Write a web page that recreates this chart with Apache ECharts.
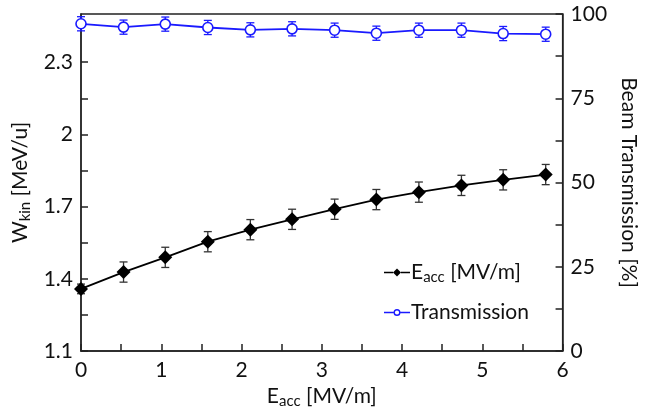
<!DOCTYPE html>
<html>
<head>
<meta charset="utf-8">
<script src="https://cdn.jsdelivr.net/npm/echarts@6/dist/echarts.min.js"></script>
<style>html,body{margin:0;padding:0;background:#fff}#c{width:647px;height:414px}</style>
</head>
<body>
<div id="c"></div>
<script>
// ---- data ----
const eacc = [0, 0.53, 1.05, 1.58, 2.11, 2.63, 3.16, 3.68, 4.21, 4.74, 5.26, 5.79];
const wkin = [1.358, 1.428, 1.489, 1.554, 1.604, 1.647, 1.689, 1.729, 1.760, 1.788, 1.811, 1.833];
const wkinErr = [0.02, 0.042, 0.042, 0.042, 0.042, 0.042, 0.042, 0.042, 0.042, 0.042, 0.042, 0.042];
const trans = [97.1, 96.1, 97.0, 96.0, 95.3, 95.6, 95.2, 94.3, 95.2, 95.2, 94.2, 94.0];
const transErr = [2.1, 2.1, 2.1, 2.1, 2.1, 2.1, 2.1, 2.1, 2.1, 2.1, 2.1, 2.1];
const xTicks = [0, 0.5, 1, 1.5, 2, 2.5, 3, 3.5, 4, 4.5, 5, 5.5, 6];
const xLabels = [0, 1, 2, 3, 4, 5, 6];
const yLeftTicks = [1.1, 1.25, 1.4, 1.55, 1.7, 1.85, 2.0, 2.15, 2.3];
const yLeftLabels = [1.1, 1.4, 1.7, 2.0, 2.3];
const yRightTicks = [0, 12.5, 25, 37.5, 50, 62.5, 75, 87.5, 100];
const yRightLabels = [0, 25, 50, 75, 100];

const FONT = 'Lato';
const BLACK = '#000000';
const BLUE = '#1a1aff';
const AXIS = '#222222';

// legend icons: short line with a small marker
const ICON_DIAMOND = 'path://M0,3.3H9V4.7H0Z M9,4L13,0L17,4L13,8Z M17,3.3H26V4.7H17Z';
const ICON_RING = 'path://M0,3.3H9.5V4.7H0Z M16.5,3.3H26V4.7H16.5Z ' +
  'M9.5,4A3.5,3.5 0 1,1 16.5,4A3.5,3.5 0 1,1 9.5,4Z ' +
  'M10.9,4A2.1,2.1 0 1,0 15.1,4A2.1,2.1 0 1,0 10.9,4Z';

function errBar(color) {
  return function (params, api) {
    const x = api.value(0), y = api.value(1), e = api.value(2);
    const t = api.coord([x, y + e]);
    const b = api.coord([x, y - e]);
    const w = 4;
    const st = { stroke: color, lineWidth: 1.3 };
    return {
      type: 'group',
      children: [
        { type: 'line', shape: { x1: t[0], y1: t[1], x2: b[0], y2: b[1] }, style: st },
        { type: 'line', shape: { x1: t[0] - w, y1: t[1], x2: t[0] + w, y2: t[1] }, style: st },
        { type: 'line', shape: { x1: b[0] - w, y1: b[1], x2: b[0] + w, y2: b[1] }, style: st }
      ]
    };
  };
}

const richText = {
  a: { fontSize: 21, fontFamily: FONT, color: '#111' },
  s: { fontSize: 15, fontFamily: FONT, color: '#111', verticalAlign: 'bottom', padding: [10, 0, 0, 0] }
};

const axisCommon = {
  axisLine: { show: true, onZero: false, lineStyle: { color: AXIS, width: 1.5 } },
  splitLine: { show: false },
  axisLabel: { fontSize: 21, fontFamily: FONT, color: '#111' },
  nameLocation: 'middle',
  nameTextStyle: { fontSize: 21, fontFamily: FONT, color: '#111', rich: richText }
};

const chart = echarts.init(document.getElementById('c'), null, { renderer: 'canvas' });
chart.setOption({
  animation: false,
  backgroundColor: '#fff',
  grid: { left: 81, right: 79, top: 14, bottom: 63, show: true, borderColor: AXIS, borderWidth: 1.3 },
  legend: {
    orient: 'vertical',
    left: 379,
    top: 257,
    itemWidth: 26,
    itemHeight: 8,
    itemGap: 17,
    data: [
      { name: 'Eacc', icon: ICON_DIAMOND, itemStyle: { color: BLACK, borderWidth: 0 } },
      { name: 'Transmission', icon: ICON_RING, itemStyle: { color: BLUE, borderWidth: 0 } }
    ],
    formatter: function (n) {
      return n === 'Eacc' ? '{a|E}{s|acc}{a| [MV/m]}' : '{a|Transmission}';
    },
    textStyle: { rich: richText, padding: [0, 0, 0, -4] }
  },
  xAxis: Object.assign({}, axisCommon, {
    type: 'value', min: 0, max: 6, interval: 1,
    axisTick: { show: true, inside: true, length: 7, customValues: xTicks, lineStyle: { color: AXIS, width: 1.5 } },
    axisLabel: Object.assign({}, axisCommon.axisLabel, { margin: 9, customValues: xLabels }),
    name: '{a|E}{s|acc}{a| [MV/m]}',
    nameGap: 33
  }),
  yAxis: [
    Object.assign({}, axisCommon, {
      type: 'value', min: 1.1, max: 2.5, interval: 0.3, position: 'left',
      axisTick: { show: true, inside: true, length: 7, customValues: yLeftTicks, lineStyle: { color: AXIS, width: 1.5 } },
      axisLabel: Object.assign({}, axisCommon.axisLabel, { margin: 8, customValues: yLeftLabels,
        formatter: function (v) { return String(+(+v).toFixed(2)); } }),
      name: '{a|W}{s|kin}{a| [MeV/u]}',
      nameRotate: 90,
      nameGap: 41
    }),
    Object.assign({}, axisCommon, {
      type: 'value', min: 0, max: 100, interval: 25, position: 'right',
      axisTick: { show: true, inside: true, length: 7, customValues: yRightTicks, lineStyle: { color: AXIS, width: 1.5 } },
      axisLabel: Object.assign({}, axisCommon.axisLabel, { margin: 8, customValues: yRightLabels }),
      name: 'Beam Transmission [%]',
      nameRotate: -90,
      nameGap: 42
    })
  ],
  series: [
    {
      type: 'custom', name: 'wErr', yAxisIndex: 0, z: 2,
      renderItem: errBar('#333'),
      data: eacc.map((x, i) => [x, wkin[i], wkinErr[i]]),
      encode: { x: 0, y: 1 }, silent: true
    },
    {
      type: 'custom', name: 'tErr', yAxisIndex: 1, z: 2,
      renderItem: errBar(BLUE),
      data: eacc.map((x, i) => [x, trans[i], transErr[i]]),
      encode: { x: 0, y: 1 }, silent: true
    },
    {
      type: 'line', name: 'Eacc', yAxisIndex: 0, z: 5,
      data: eacc.map((x, i) => [x, wkin[i]]),
      symbol: 'diamond', symbolSize: [14, 14],
      itemStyle: { color: BLACK },
      lineStyle: { color: BLACK, width: 1.8 },
      clip: false
    },
    {
      type: 'line', name: 'Transmission', yAxisIndex: 1, z: 5,
      data: eacc.map((x, i) => [x, trans[i]]),
      symbol: 'circle', symbolSize: 10,
      itemStyle: { color: '#fff', borderColor: BLUE, borderWidth: 1.6 },
      lineStyle: { color: BLUE, width: 1.8 },
      clip: false
    }
  ]
});
</script>
</body>
</html>
